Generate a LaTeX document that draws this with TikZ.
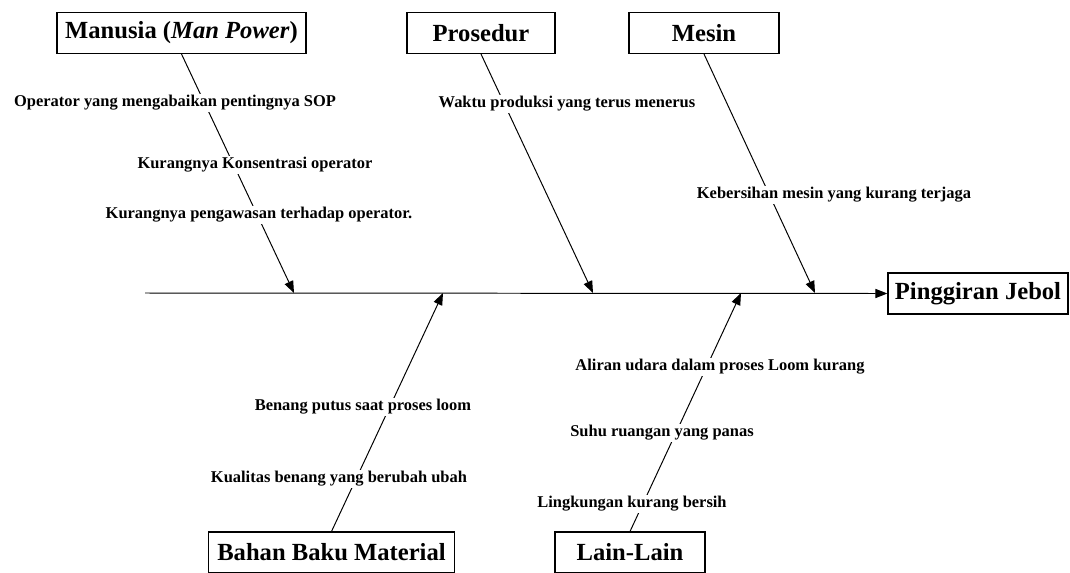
\documentclass[tikz,border=0pt]{standalone}
\usepackage{fontspec}
\setmainfont{Liberation Serif}
\usetikzlibrary{arrows.meta}

\begin{document}
\begin{tikzpicture}[x=0.025cm, y=-0.025cm, >={Triangle[length=8.5pt,width=6.5pt]}]
    \tikzset{
        cat/.style={draw, line width=0.9pt, minimum height=1.02cm, inner sep=0pt,
            font=\fontsize{17.5}{20}\selectfont\bfseries},
        cause/.style={fill=white, inner sep=1pt, font=\fontsize{11.7}{14}\selectfont\bfseries},
        bone/.style={line width=0.7pt}
    }
    \useasboundingbox (0,0) rectangle (1070,572);

    % kotak kategori
    \node [cat, minimum width=6.22cm] (manusia) at (181.5,33) {Manusia (\textit{Man Power})};
    \node [cat, minimum width=3.7cm] (prosedur) at (481,33) {Prosedur};
    \node [cat, minimum width=3.75cm] (mesin) at (704,33) {Mesin};
    \node [cat, minimum width=6.15cm] (bahan) at (331.5,552.5) {Bahan Baku Material};
    \node [cat, minimum width=3.75cm] (lain) at (630,552.5) {Lain-Lain};
    \node [cat, minimum width=4.5cm] (jebol) at (978,293.5) {Pinggiran Jebol};

    % tulang utama
    \coordinate (ekor) at (145,293);
    \draw [bone, ->] (ekor) -- (jebol.west);

    \coordinate (m) at (294,293);
    \coordinate (p) at (593,293);
    \coordinate (s) at (815,293);
    \coordinate (b) at (443,293);
    \coordinate (l) at (741,293);

    \draw [bone, ->] (manusia.south) -- (m);
    \draw [bone, ->] (prosedur.south) -- (p);
    \draw [bone, ->] (mesin.south) -- (s);
    \draw [bone, ->] (bahan.north) -- (b);
    \draw [bone, ->] (lain.north) -- (l);

    % penyebab
    \node [cause] (m1) at (175,103) {Operator yang mengabaikan pentingnya SOP};
    \node [cause] (m2) at (255,165) {Kurangnya Konsentrasi operator};
    \node [cause] (m3) at (259,215) {Kurangnya pengawasan terhadap operator.};
    \node [cause] (p1) at (567,104) {Waktu produksi yang terus menerus};
    \node [cause] (s1) at (834,195) {Kebersihan mesin yang kurang terjaga};
    \node [cause] (b1) at (363,407) {Benang putus saat proses loom};
    \node [cause] (b2) at (339,479) {Kualitas benang yang berubah ubah};
    \node [cause] (l1) at (720,367) {Aliran udara dalam proses Loom kurang};
    \node [cause] (l2) at (662,433) {Suhu ruangan yang panas};
    \node [cause] (l3) at (632,504) {Lingkungan kurang bersih};

\end{tikzpicture}
\end{document}
